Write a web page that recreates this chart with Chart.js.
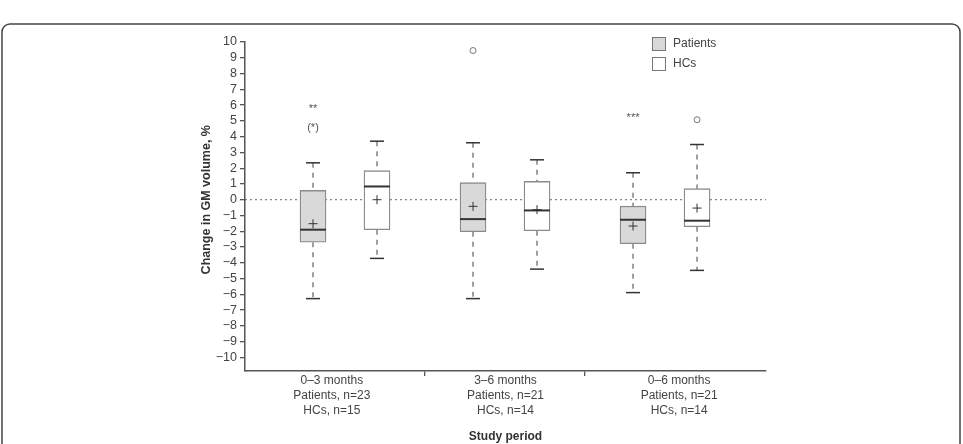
<!DOCTYPE html>
<html>
<head>
<meta charset="utf-8">
<title>Change in GM volume</title>
<script src="https://cdn.jsdelivr.net/npm/chart.js@4/dist/chart.umd.min.js"></script>
<style>
  html, body { margin: 0; padding: 0; background: #fff; }
  #wrap { width: 963px; height: 444px; }
</style>
</head>
<body>
<div id="wrap"><canvas id="gmChart" width="963" height="444"></canvas></div>
<script>
// --- Data ---
const categories = ['0\u20133 months', '3\u20136 months', '0\u20136 months'];
const patientN = [23, 21, 21];
const hcN = [15, 14, 14];

const patientMin = [-6.27, -6.27, -5.89];
const patientQ1 = [-2.69, -2.03, -2.79];
const patientMedian = [-1.90, -1.23, -1.27];
const patientQ3 = [0.59, 1.08, -0.41];
const patientMax = [2.34, 3.61, 1.71];
const patientMean = [-1.52, -0.42, -1.67];
const patientOutliers = [[], [9.46], []];

const hcMin = [-3.72, -4.40, -4.48];
const hcQ1 = [-1.90, -1.96, -1.71];
const hcMedian = [0.84, -0.68, -1.33];
const hcQ3 = [1.84, 1.16, 0.70];
const hcMax = [3.71, 2.53, 3.50];
const hcMean = [0.0, -0.63, -0.53];
const hcOutliers = [[], [], [5.07]];

// significance marks above the patient boxes
const sigMain = ['**', '', '***'];
const sigMainY = [5.77, null, 5.17];
const sigSub = ['(*)', '', ''];
const sigSubY = [4.56, null, null];

const yTicks = [-10, -9, -8, -7, -6, -5, -4, -3, -2, -1, 0, 1, 2, 3, 4, 5, 6, 7, 8, 9, 10];
const separators = [1.5, 2.5];

// --- Layout helpers ---
const X_MIN = 0.375, X_MAX = 3.631;
const OFFSET = 0.2;
const FONT = '"Liberation Sans", Arial, Helvetica, sans-serif';
const patientX = categories.map((c, i) => i + 1 - OFFSET);
const hcX = categories.map((c, i) => i + 1 + OFFSET);

function whiskers(xs, mins, q1s, q3s, maxs) {
    const pts = [];
    xs.forEach((x, i) => {
        pts.push({ x, y: maxs[i] }, { x, y: q3s[i] }, { x, y: null });
        pts.push({ x, y: q1s[i] }, { x, y: mins[i] }, { x, y: null });
    });
    return pts;
}
function caps(xs, mins, maxs) {
    const pts = [];
    xs.forEach((x, i) => { pts.push({ x, y: mins[i] }, { x, y: maxs[i] }); });
    return pts;
}
function points(xs, vals) {
    return xs.map((x, i) => ({ x, y: vals[i] }));
}
function outlierPoints(xs, lists) {
    const pts = [];
    xs.forEach((x, i) => lists[i].forEach(v => pts.push({ x, y: v })));
    return pts;
}

// --- Plugins ---
const framePlugin = {
    id: 'frame',
    beforeDraw(chart) {
        const ctx = chart.ctx;
        ctx.save();
        ctx.strokeStyle = '#444';
        ctx.lineWidth = 1.5;
        ctx.beginPath();
        ctx.roundRect(2, 24, 958, 440, 8);
        ctx.stroke();
        ctx.restore();
    }
};

const textPlugin = {
    id: 'texts',
    afterDraw(chart) {
        const ctx = chart.ctx;
        const xs = chart.scales.x, ys = chart.scales.y;
        const area = chart.chartArea;
        ctx.save();
        ctx.textAlign = 'center';
        ctx.textBaseline = 'middle';

        // significance marks
        ctx.fillStyle = '#555';
        ctx.font = '11px ' + FONT;
        categories.forEach((c, i) => {
            const px = xs.getPixelForValue(patientX[i]);
            if (sigMain[i]) ctx.fillText(sigMain[i], px, ys.getPixelForValue(sigMainY[i]));
            if (sigSub[i]) ctx.fillText(sigSub[i], px, ys.getPixelForValue(sigSubY[i]));
        });

        // y axis title, centred on the zero line
        ctx.save();
        ctx.translate(area.left - 38, ys.getPixelForValue(0));
        ctx.rotate(-Math.PI / 2);
        ctx.font = 'bold 12.5px ' + FONT;
        ctx.fillStyle = '#333';
        ctx.fillText('Change in GM volume, %', 0, 0);
        ctx.restore();

        // category labels, centred in thirds of the axis
        ctx.fillStyle = '#444';
        ctx.font = '12px ' + FONT;
        const third = (area.right - area.left) / 3;
        categories.forEach((c, i) => {
            const cx = area.left + third * (i + 0.5);
            const top = area.bottom + 10;
            ctx.fillText(c, cx, top);
            ctx.fillText('Patients, n=' + patientN[i], cx, top + 15);
            ctx.fillText('HCs, n=' + hcN[i], cx, top + 30);
        });
        ctx.font = 'bold 12px ' + FONT;
        ctx.fillStyle = '#333';
        ctx.fillText('Study period', (area.left + area.right) / 2, area.bottom + 66);

        // legend
        const lx = area.right - 114, ly = area.top - 5;
        ctx.lineWidth = 1;
        ctx.strokeStyle = '#777';
        ctx.fillStyle = '#d9d9d9';
        ctx.fillRect(lx + 0.5, ly + 0.5, 13, 13);
        ctx.strokeRect(lx + 0.5, ly + 0.5, 13, 13);
        ctx.fillStyle = '#fff';
        ctx.fillRect(lx + 0.5, ly + 20.5, 13, 13);
        ctx.strokeRect(lx + 0.5, ly + 20.5, 13, 13);
        ctx.fillStyle = '#444';
        ctx.font = '12px ' + FONT;
        ctx.textAlign = 'left';
        ctx.fillText('Patients', lx + 21, ly + 7);
        ctx.fillText('HCs', lx + 21, ly + 27);
        ctx.restore();
    }
};

// --- Chart ---
const ctx = document.getElementById('gmChart').getContext('2d');
new Chart(ctx, {
    type: 'bar',
    data: {
        datasets: [
            {
                type: 'line',
                label: 'zero',
                data: [{ x: X_MIN, y: 0 }, { x: X_MAX, y: 0 }],
                borderColor: '#666',
                borderWidth: 1,
                borderDash: [2, 3],
                pointRadius: 0,
                order: 10
            },
            {
                label: 'Patients',
                data: patientX.map((x, i) => ({ x, y: [patientQ1[i], patientQ3[i]] })),
                backgroundColor: '#d9d9d9',
                borderColor: '#8a8a8a',
                borderWidth: 1.3,
                borderSkipped: false,
                barThickness: 26,
                grouped: false,
                order: 5
            },
            {
                label: 'HCs',
                data: hcX.map((x, i) => ({ x, y: [hcQ1[i], hcQ3[i]] })),
                backgroundColor: '#ffffff',
                borderColor: '#8a8a8a',
                borderWidth: 1.3,
                borderSkipped: false,
                barThickness: 26,
                grouped: false,
                order: 5
            },
            {
                type: 'line',
                label: 'whiskers',
                data: whiskers(patientX, patientMin, patientQ1, patientQ3, patientMax)
                    .concat(whiskers(hcX, hcMin, hcQ1, hcQ3, hcMax)),
                borderColor: '#777',
                borderWidth: 1.4,
                borderDash: [5, 5],
                pointRadius: 0,
                spanGaps: false,
                order: 6
            },
            {
                type: 'scatter',
                label: 'caps',
                data: caps(patientX, patientMin, patientMax).concat(caps(hcX, hcMin, hcMax)),
                pointStyle: 'line',
                radius: 7,
                borderColor: '#333',
                borderWidth: 1.5,
                order: 2
            },
            {
                type: 'scatter',
                label: 'medians',
                data: points(patientX, patientMedian).concat(points(hcX, hcMedian)),
                pointStyle: 'line',
                radius: 13,
                borderColor: '#333',
                borderWidth: 2,
                order: 1
            },
            {
                type: 'scatter',
                label: 'means',
                data: points(patientX, patientMean).concat(points(hcX, hcMean)),
                pointStyle: 'cross',
                radius: 4.5,
                borderColor: '#333',
                borderWidth: 1,
                order: 1
            },
            {
                type: 'scatter',
                label: 'outliers',
                data: outlierPoints(patientX, patientOutliers).concat(outlierPoints(hcX, hcOutliers)),
                pointStyle: 'circle',
                radius: 3,
                backgroundColor: '#fff',
                borderColor: '#777',
                borderWidth: 1,
                order: 1
            }
        ]
    },
    options: {
        responsive: false,
        animation: false,
        layout: { padding: { left: 196, right: 197, top: 42, bottom: 53 } },
        plugins: {
            legend: { display: false },
            tooltip: { enabled: false }
        },
        scales: {
            x: {
                type: 'linear',
                min: X_MIN,
                max: X_MAX,
                offset: false,
                afterBuildTicks: (scale) => { scale.ticks = separators.map(v => ({ value: v })); },
                afterFit: (scale) => { scale.height = 20; },
                ticks: { callback: () => '', padding: 0, autoSkip: false },
                grid: { offset: false, drawOnChartArea: false, tickLength: 5, color: '#555', lineWidth: 1.3 },
                border: { color: '#555', width: 1.5 }
            },
            y: {
                min: -10.86,
                max: 10,
                afterBuildTicks: (scale) => { scale.ticks = yTicks.map(v => ({ value: v })); },
                afterFit: (scale) => { scale.width = 49; },
                ticks: {
                    padding: 3,
                    autoSkip: false,
                    color: '#444',
                    font: { family: FONT, size: 12.5 },
                    callback: (v) => v < 0 ? '\u2212' + Math.abs(v) : String(v)
                },
                grid: { drawOnChartArea: false, tickLength: 5, color: '#555', lineWidth: 1.3 },
                border: { color: '#555', width: 1.5 },
                title: { display: false }
            }
        }
    },
    plugins: [framePlugin, textPlugin]
});
</script>
</body>
</html>
